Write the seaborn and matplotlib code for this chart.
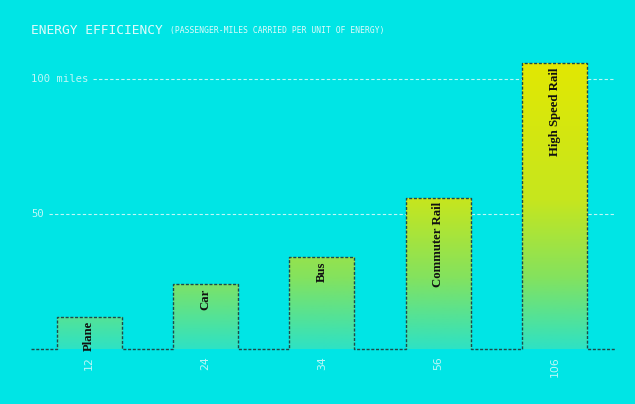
import numpy as np
import pandas as pd
import matplotlib
import matplotlib.pyplot as plt
import seaborn as sns
from matplotlib.colors import LinearSegmentedColormap

matplotlib.use("Agg")

# Data
modes = ["Plane", "Car", "Bus", "Commuter Rail", "High Speed Rail"]
miles = [12, 24, 34, 56, 106]
grid_values = [50, 100]
grid_labels = ["50", "100 miles"]

title = "ENERGY EFFICIENCY"
subtitle = "(PASSENGER-MILES CARRIED PER UNIT OF ENERGY)"

df = pd.DataFrame({"mode": modes, "miles": miles})

bg = "#00E5E5"
light = "#BDF7F7"
edge = "#1E4A4A"

sns.set_theme(style="white")
plt.rcParams["font.family"] = ["DejaVu Sans"]

ymax = 115
fig = plt.figure(figsize=(6.35, 4.04), dpi=100, facecolor=bg)
ax = fig.add_axes([31 / 635, 55 / 404, 584 / 635, ymax * 2.70 / 404])
ax.set_facecolor(bg)

sns.barplot(data=df, x="mode", y="miles", width=0.56, ax=ax,
            color=bg, edgecolor="none", linewidth=0, zorder=2)

# gradient fill clipped to each bar
cmap = LinearSegmentedColormap.from_list(
    "energy",
    [(0.0, "#2EE2C4"), (0.24, "#84E25E"), (0.5, "#C6E61E"), (1.0, "#E4E800")])
grad = np.linspace(0, 1, 256).reshape(-1, 1)
bars = list(ax.patches)
for p in bars:
    im = ax.imshow(grad, cmap=cmap, origin="lower", aspect="auto",
                   extent=(-0.5, 4.52, 0, 110), zorder=3)
    im.set_clip_path(p)
ax.set_xlim(-0.5, 4.52)
ax.set_ylim(0, ymax)

# dashed step outline: baseline between bars, sides and tops of bars
xs, ys = [-0.5], [0]
for p in bars:
    x0, w, h = p.get_x(), p.get_width(), p.get_height()
    xs += [x0, x0, x0 + w, x0 + w]
    ys += [0, h, h, 0]
xs.append(4.52)
ys.append(0)
ax.plot(xs, ys, color=edge, lw=1.0, ls=(0, (2.2, 1.2)), zorder=4,
        clip_on=False)

# gridlines with inline labels
ytr = ax.get_yaxis_transform()
starts = [0.03, 0.107]
for v, lab, s in zip(grid_values, grid_labels, starts):
    ax.plot([s, 1], [v, v], transform=ytr, color=light, lw=0.8,
            ls=(0, (3, 2)), zorder=1)
    ax.text(0, v, lab, transform=ytr, ha="left", va="center",
            fontsize=7.6, color=light, family="DejaVu Sans Mono")

# labels inside bars
for p, name in zip(bars, modes):
    ax.annotate(name, xy=(p.get_x() + p.get_width() / 2, p.get_height()),
                xytext=(0, -3.2), textcoords="offset points",
                rotation=90, ha="center", va="top", fontsize=9.2,
                fontweight="bold", family="Liberation Serif",
                color="#111111", zorder=5)

ax.set_xticks(range(len(miles)))
ax.set_xticklabels([str(m) for m in miles], rotation=90, fontsize=7.8,
                   color=light)
ax.tick_params(axis="x", length=0, pad=5)
ax.set_yticks([])
ax.set_xlabel("")
ax.set_ylabel("")
sns.despine(ax=ax, left=True, bottom=True)

t = fig.text(31 / 635, 1 - 30 / 404, title, ha="left", va="center",
             fontsize=9.3, color="#DDFBFB", family="DejaVu Sans Mono")
ax.annotate(subtitle, xy=(1, 0.5), xycoords=t, xytext=(5, 0),
            textcoords="offset points", ha="left", va="center",
            fontsize=5.8, color="#DDFBFB", family="DejaVu Sans Mono",
            annotation_clip=False)

fig.savefig("out.png", dpi=100, facecolor=bg)
